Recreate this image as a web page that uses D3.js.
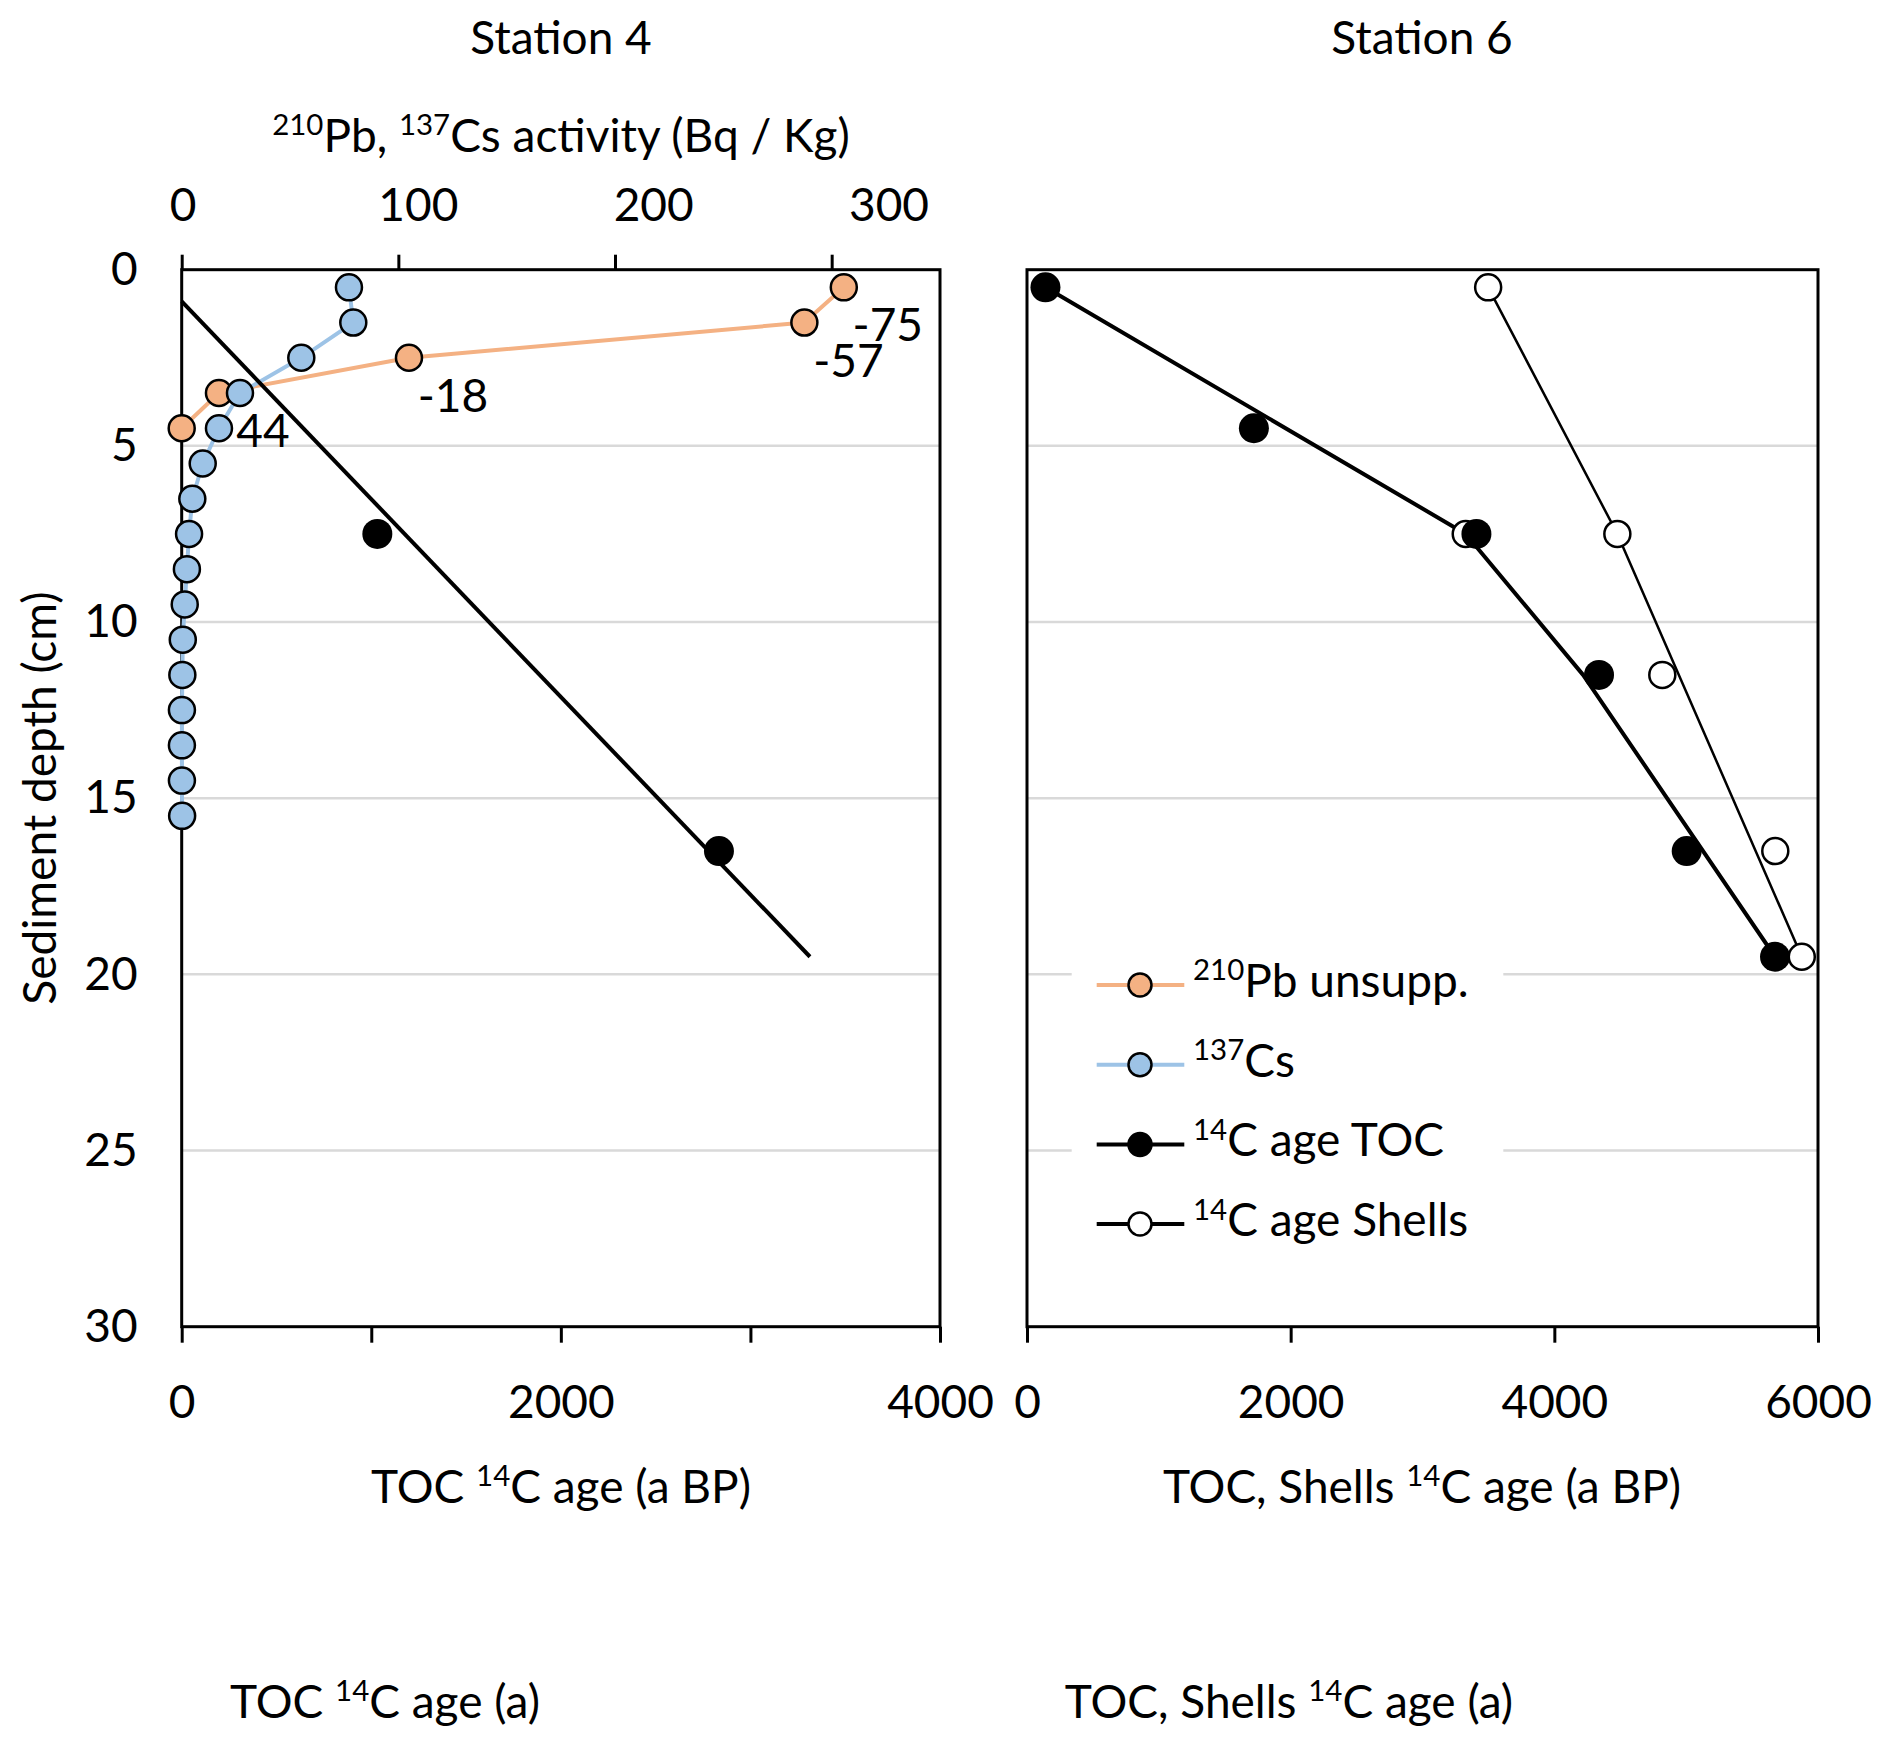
<!DOCTYPE html>
<html>
<head>
<meta charset="utf-8">
<script src="https://cdn.jsdelivr.net/npm/d3@7"></script>
<style>
  body { margin: 0; background: #fff; }
  text { font-family: Lato, "Open Sans", sans-serif; fill: #000; }
</style>
</head>
<body>
<div id="chart"></div>
<script>
// Station 4: 210Pb / 137Cs activity (Bq/kg) against depth (cm)
var depthCs4 = [0.5, 1.5, 2.5, 3.5, 4.5, 5.5, 6.5, 7.5, 8.5, 9.5, 10.5, 11.5, 12.5, 13.5, 14.5, 15.5];
var cs137 = [77.2, 79.2, 55.2, 26.9, 17.2, 9.7, 4.9, 3.4, 2.4, 1.4, 0.5, 0.3, 0.1, 0.1, 0.1, 0.2];
var depthPb4 = [0.5, 1.5, 2.5, 3.5, 4.5];
var pb210 = [305.6, 287.4, 104.9, 17.2, 0];
var pbLabels = ["-75", "-57", "-18", "44"];

// Station 4: TOC 14C ages (a BP)
var depthToc4 = [7.5, 16.5];
var ageToc4 = [1032, 2834];
var depthTocFit4 = [0.9, 19.5];
var ageTocFit4 = [0, 3314];

// Station 6: TOC and shell 14C ages (a BP)
var depthToc6 = [0.5, 4.5, 7.5, 11.5, 16.5, 19.5];
var ageToc6 = [140, 1721, 3409, 4339, 5004, 5674];
var depthTocFit6 = [0.5, 7.5, 11.5, 19.5];
var ageTocFit6 = [140, 3328, 4218, 5674];
var depthShell6 = [0.5, 7.5, 7.5, 11.5, 16.5, 19.5];
var ageShell6 = [3498, 3328, 4478, 4819, 5676, 5877];
var depthShellFit6 = [0.5, 7.5, 19.5];
var ageShellFit6 = [3498, 4478, 5877];

var depthTicks = [0, 5, 10, 15, 20, 25, 30];
var gridDepths = [5, 10, 15, 20, 25];
var activityTicks = [0, 100, 200, 300];
var ageTicks4 = [0, 1000, 2000, 3000, 4000];
var ageTicks6 = [0, 2000, 4000, 6000];

var legendNames = ["^210^Pb unsupp.", "^137^Cs", "^14^C age TOC", "^14^C age Shells"];

var width = 1892,
    height = 1748,
    fontSize = 46,
    plotTop = 269.7,
    plotBottom = 1326.7;

var svg = d3.select("#chart").append("svg")
    .attr("width", width)
    .attr("height", height);

svg.append("rect").attr("width", width).attr("height", height).attr("fill", "#fff");

var yDepth = d3.scaleLinear().domain([0, 30]).range([plotTop, plotBottom]);
var xAct = d3.scaleLinear().domain([0, 350]).range([181.7, 940]);
// the activity labels in the original sit wider apart than their tick marks
var xActLabel = d3.scaleLinear().domain([0, 300]).range([182.5, 888.5]);
var xAge4 = d3.scaleLinear().domain([0, 4000]).range([181.7, 940]);
var xAge6 = d3.scaleLinear().domain([0, 6000]).range([1027, 1818]);

var zip = function(xs, ys) {
    return xs.map(function(x, i) { return { x: x, y: ys[i] }; });
};

// "^14^C age" -> superscript for the parts between carets
var richText = function(sel, str, size) {
    var parts = str.split("^");
    var raised = false;
    parts.forEach(function(p, i) {
        if (p === "") return;
        var sup = i % 2 === 1;
        var ts = sel.append("tspan").text(p);
        if (sup) {
            ts.attr("font-size", size * 0.64).attr("dy", raised ? 0 : -size * 0.36);
            raised = true;
        } else if (raised) {
            ts.attr("dy", size * 0.36);
            raised = false;
        }
    });
    return sel;
};

var label = function(x, y, str, anchor) {
    var t = svg.append("text")
        .attr("x", x).attr("y", y)
        .attr("font-size", fontSize)
        .attr("text-anchor", anchor || "middle");
    return richText(t, str, fontSize);
};

var panel = function(xScale) {
    var x0 = xScale.range()[0], x1 = xScale.range()[1];
    svg.append("g").selectAll("line")
        .data(gridDepths)
        .enter().append("line")
        .attr("x1", x0).attr("x2", x1)
        .attr("y1", function(d) { return yDepth(d); })
        .attr("y2", function(d) { return yDepth(d); })
        .attr("stroke", "#d9d9d9")
        .attr("stroke-width", 2.5);
    svg.append("rect")
        .attr("x", x0).attr("y", plotTop)
        .attr("width", x1 - x0).attr("height", plotBottom - plotTop)
        .attr("fill", "none")
        .attr("stroke", "#000")
        .attr("stroke-width", 3);
};

var styleAxis = function(g) {
    g.attr("font-size", fontSize).attr("font-family", "Lato, 'Open Sans', sans-serif");
    g.select(".domain").remove();
    g.selectAll(".tick line").attr("stroke", "#000").attr("stroke-width", 3);
    g.selectAll(".tick text").attr("fill", "#000");
};

var lineGen = function(xScale) {
    return d3.line()
        .x(function(d) { return xScale(d.x); })
        .y(function(d) { return yDepth(d.y); });
};

var path = function(data, xScale, color, w) {
    svg.append("path")
        .datum(data)
        .attr("d", lineGen(xScale))
        .attr("fill", "none")
        .attr("stroke", color)
        .attr("stroke-width", w)
        .attr("stroke-linejoin", "round");
};

var dots = function(data, xScale, r, fill, stroke, sw) {
    svg.append("g").selectAll("circle")
        .data(data)
        .enter().append("circle")
        .attr("cx", function(d) { return xScale(d.x); })
        .attr("cy", function(d) { return yDepth(d.y); })
        .attr("r", r)
        .attr("fill", fill)
        .attr("stroke", stroke)
        .attr("stroke-width", sw);
};

// ---- Station 4
panel(xAge4);

svg.append("g")
    .attr("transform", "translate(0," + plotTop + ")")
    .call(d3.axisTop(xAct).tickValues(activityTicks).tickSize(15).tickSizeOuter(0).tickFormat(""))
    .call(styleAxis);

svg.append("g")
    .attr("transform", "translate(0," + plotTop + ")")
    .call(d3.axisTop(xActLabel).tickValues(activityTicks).tickSize(0).tickPadding(49))
    .call(styleAxis)
    .call(function(g) { g.selectAll(".tick line").remove(); });

svg.append("g")
    .attr("transform", "translate(0," + plotBottom + ")")
    .call(d3.axisBottom(xAge4).tickValues(ageTicks4).tickSize(16).tickSizeOuter(0).tickPadding(43)
        .tickFormat(function(d) { return d % 2000 === 0 ? d : ""; }))
    .call(styleAxis);

svg.append("g")
    .attr("transform", "translate(181.7,0)")
    .call(d3.axisLeft(yDepth).tickValues(depthTicks).tickSize(0).tickPadding(44))
    .call(styleAxis);

var pbData = zip(pb210, depthPb4);
var csData = zip(cs137, depthCs4);

path(pbData, xAct, "#f4b183", 4);
dots(pbData, xAct, 13, "#f4b183", "#000", 2.5);
path(csData, xAct, "#9dc3e6", 4);
dots(csData, xAct, 13, "#9dc3e6", "#000", 2.5);

svg.append("g").selectAll("text")
    .data(pbLabels)
    .enter().append("text")
    .attr("x", function(d, i) { return xAct(pb210[i]) + 44; })
    .attr("y", function(d, i) { return yDepth(depthPb4[i]) + 54; })
    .attr("text-anchor", "middle")
    .attr("font-size", fontSize)
    .text(function(d) { return d; });

path(zip(ageTocFit4, depthTocFit4), xAge4, "#000", 4);
dots(zip(ageToc4, depthToc4), xAge4, 15, "#000", "none", 0);

// ---- Station 6
panel(xAge6);

svg.append("g")
    .attr("transform", "translate(0," + plotBottom + ")")
    .call(d3.axisBottom(xAge6).tickValues(ageTicks6).tickSize(16).tickSizeOuter(0).tickPadding(43)
        .tickFormat(d3.format("d")))
    .call(styleAxis);

path(zip(ageTocFit6, depthTocFit6), xAge6, "#000", 4);
path(zip(ageShellFit6, depthShellFit6), xAge6, "#000", 2.5);
dots(zip(ageShell6, depthShell6), xAge6, 13, "#fff", "#000", 2.5);
dots(zip(ageToc6, depthToc6), xAge6, 15, "#000", "none", 0);

// legend
svg.append("rect")
    .attr("x", 1071.7).attr("y", 945)
    .attr("width", 431.6).attr("height", 315)
    .attr("fill", "#fff");

var legendStyle = [
    { line: "#f4b183", lw: 4, fill: "#f4b183" },
    { line: "#9dc3e6", lw: 4, fill: "#9dc3e6" },
    { line: "#000", lw: 4, fill: "#000" },
    { line: "#000", lw: 4, fill: "#fff" }
];

legendNames.forEach(function(name, i) {
    var ly = 985 + i * 79.7;
    svg.append("line")
        .attr("x1", 1096.7).attr("x2", 1184.3)
        .attr("y1", ly).attr("y2", ly)
        .attr("stroke", legendStyle[i].line)
        .attr("stroke-width", legendStyle[i].lw);
    svg.append("circle")
        .attr("cx", 1140).attr("cy", ly).attr("r", 11.5)
        .attr("fill", legendStyle[i].fill)
        .attr("stroke", "#000")
        .attr("stroke-width", 2.5);
    label(1193, ly + 12, name, "start");
});

// titles
label(561, 54, "Station 4");
label(1422, 54, "Station 6");
label(561, 152, "^210^Pb, ^137^Cs activity (Bq / Kg)");
label(561, 1503, "TOC ^14^C age (a BP)");
label(1422, 1503, "TOC, Shells ^14^C age (a BP)");
label(385, 1718, "TOC ^14^C age (a)");
label(1289, 1718, "TOC, Shells ^14^C age (a)");

svg.append("text")
    .attr("transform", "translate(56,798) rotate(-90)")
    .attr("text-anchor", "middle")
    .attr("font-size", fontSize)
    .text("Sediment depth (cm)");
</script>
</body>
</html>
